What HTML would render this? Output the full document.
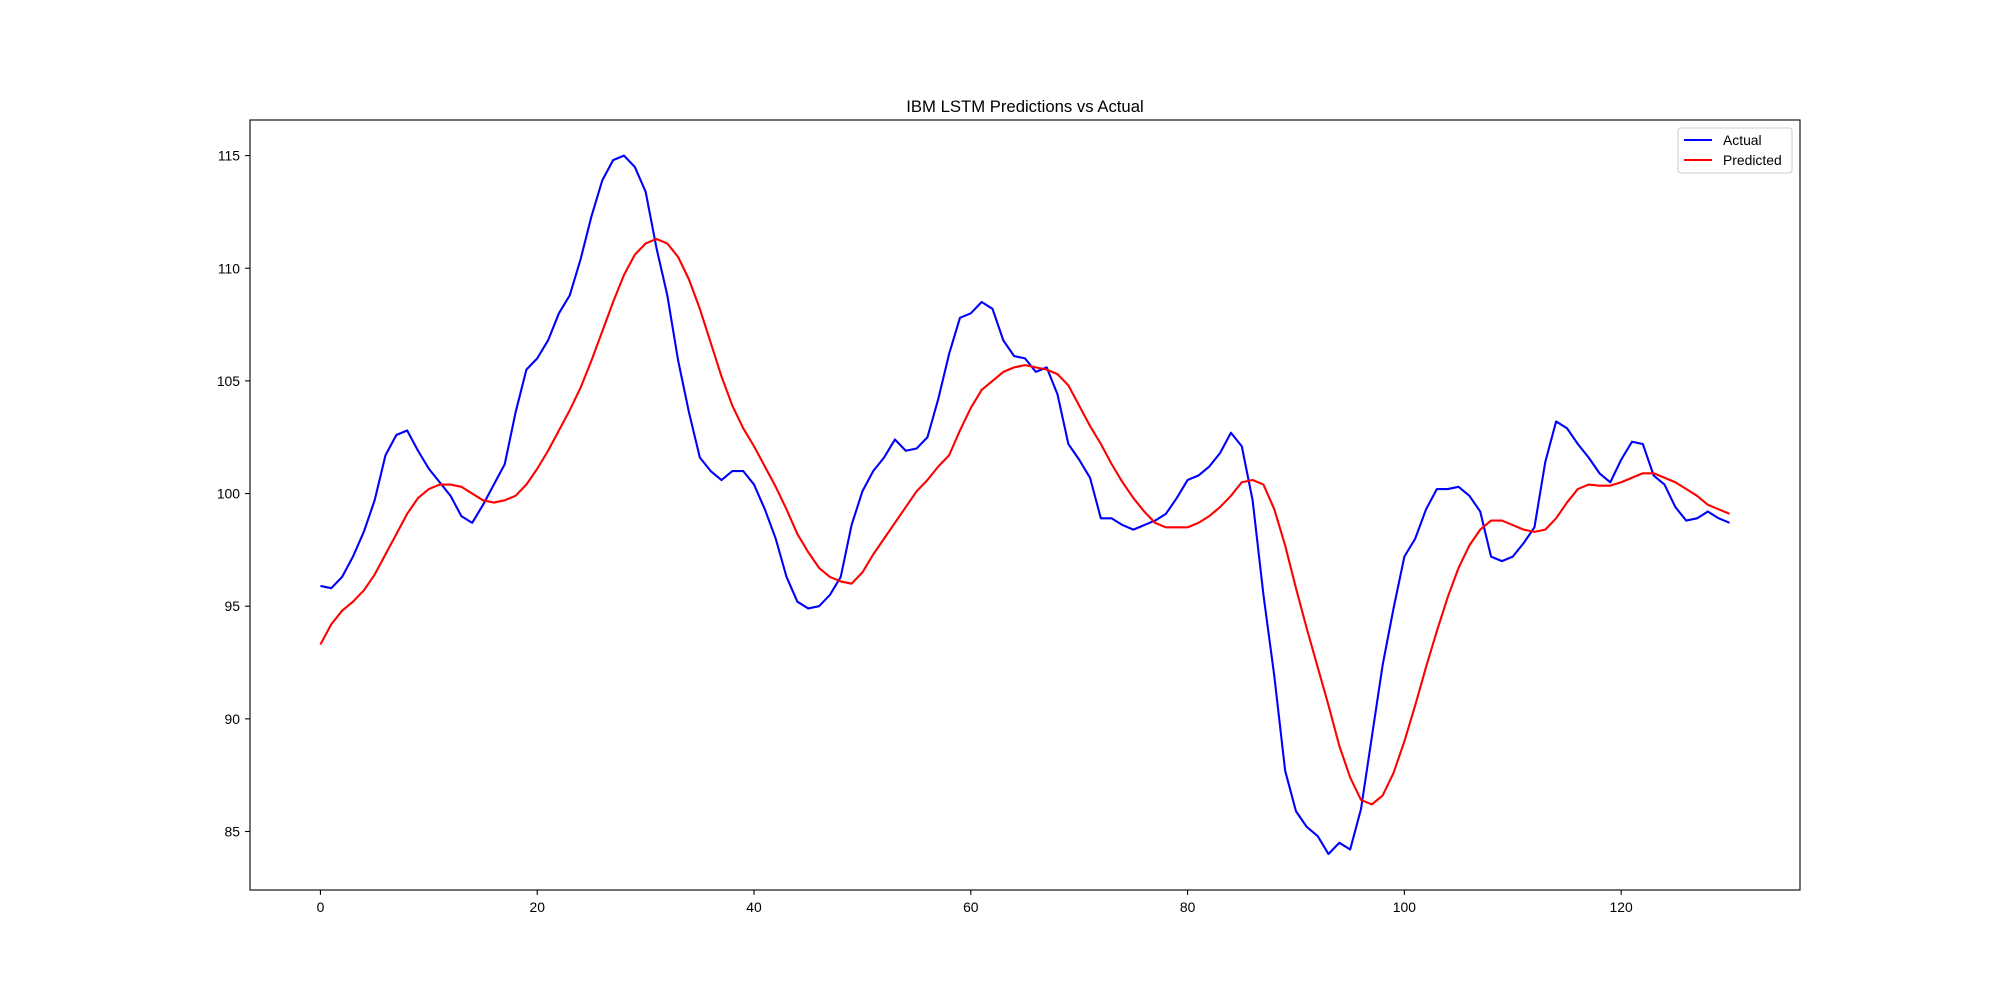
<!DOCTYPE html>
<html><head><meta charset="utf-8"><style>
html,body{margin:0;padding:0;background:#fff;}
svg text{font-family:"Liberation Sans","DejaVu Sans",sans-serif;}
</style></head><body>
<svg id="chart" width="2000" height="1000" xmlns="http://www.w3.org/2000/svg">
<rect x="0" y="0" width="2000" height="1000" fill="#fff"/>
<text x="1025" y="112" font-size="16.7" text-anchor="middle">IBM LSTM Predictions vs Actual</text>
<g id="ticks"></g>
<g id="series"></g>
<rect x="250" y="120" width="1550" height="770" fill="none" stroke="#000" stroke-width="1.1"/>
<g>
<rect x="1678" y="128" width="114" height="45" fill="#fff" stroke="#ccc" stroke-width="1" rx="3"/>
<line x1="1684" y1="140" x2="1712" y2="140" stroke="#0000ff" stroke-width="2.1"/>
<text x="1723" y="145" font-size="13.9">Actual</text>
<line x1="1684" y1="160" x2="1712" y2="160" stroke="#ff0000" stroke-width="2.1"/>
<text x="1723" y="165" font-size="13.9">Predicted</text>
</g>
</svg>
<script>
const actual=[95.9,95.8,96.3,97.2,98.3,99.7,101.7,102.6,102.8,101.9,101.1,100.5,99.9,99.0,98.7,99.5,100.4,101.3,103.6,105.5,106.0,106.8,108.0,108.8,110.4,112.3,113.9,114.8,115.0,114.5,113.4,110.9,108.8,105.9,103.6,101.6,101.0,100.6,101.0,101.0,100.4,99.3,98.0,96.3,95.2,94.9,95.0,95.5,96.3,98.6,100.1,101.0,101.6,102.4,101.9,102.0,102.5,104.2,106.2,107.8,108.0,108.5,108.2,106.8,106.1,106.0,105.4,105.6,104.4,102.2,101.5,100.7,98.9,98.9,98.6,98.4,98.6,98.8,99.1,99.8,100.6,100.8,101.2,101.8,102.7,102.1,99.7,95.5,91.9,87.7,85.9,85.2,84.8,84.0,84.5,84.2,86.0,89.2,92.4,94.9,97.2,98.0,99.3,100.2,100.2,100.3,99.9,99.2,97.2,97.0,97.2,97.8,98.5,101.4,103.2,102.9,102.2,101.6,100.9,100.5,101.5,102.3,102.2,100.8,100.4,99.4,98.8,98.9,99.2,98.9,98.7];
const predicted=[93.3,94.2,94.8,95.2,95.7,96.4,97.3,98.2,99.1,99.8,100.2,100.4,100.4,100.3,100.0,99.7,99.6,99.7,99.9,100.4,101.1,101.9,102.8,103.7,104.7,105.9,107.2,108.5,109.7,110.6,111.1,111.3,111.1,110.5,109.5,108.2,106.7,105.2,103.9,102.9,102.1,101.2,100.3,99.3,98.2,97.4,96.7,96.3,96.1,96.0,96.5,97.3,98.0,98.7,99.4,100.1,100.6,101.2,101.7,102.8,103.8,104.6,105.0,105.4,105.6,105.7,105.6,105.5,105.3,104.8,103.9,103.0,102.2,101.3,100.5,99.8,99.2,98.7,98.5,98.5,98.5,98.7,99.0,99.4,99.9,100.5,100.6,100.4,99.3,97.7,95.8,94.0,92.3,90.6,88.8,87.4,86.4,86.2,86.6,87.6,89.0,90.6,92.3,93.9,95.4,96.7,97.7,98.4,98.8,98.8,98.6,98.4,98.3,98.4,98.9,99.6,100.2,100.4,100.35,100.35,100.5,100.7,100.9,100.9,100.7,100.5,100.2,99.9,99.5,99.3,99.1];
const xTicks=[0,20,40,60,80,100,120];
const yTicks=[85,90,95,100,105,110,115];
const NS='http://www.w3.org/2000/svg';
function xs(v){return 250+(v+6.5)/143*1550;}
function ys(v){return 155.6+(115-v)*22.53;}
const tg=document.getElementById('ticks');
xTicks.forEach(t=>{
  const l=document.createElementNS(NS,'line');
  l.setAttribute('x1',xs(t));l.setAttribute('x2',xs(t));l.setAttribute('y1',890);l.setAttribute('y2',894.9);
  l.setAttribute('stroke','#000');l.setAttribute('stroke-width','1.1');
  
  
  tg.appendChild(l);
  const tx=document.createElementNS(NS,'text');
  tx.setAttribute('x',xs(t));tx.setAttribute('y',912);tx.setAttribute('font-size','13.9');tx.setAttribute('text-anchor','middle');
  tx.textContent=t;
  
  
  tg.appendChild(tx);
});
yTicks.forEach(t=>{
  const l=document.createElementNS(NS,'line');
  l.setAttribute('x1',245.1);l.setAttribute('x2',250);l.setAttribute('y1',ys(t));l.setAttribute('y2',ys(t));
  l.setAttribute('stroke','#000');l.setAttribute('stroke-width','1.1');
  
  
  tg.appendChild(l);
  const tx=document.createElementNS(NS,'text');
  tx.setAttribute('x',240);tx.setAttribute('y',ys(t)+5);tx.setAttribute('font-size','13.9');tx.setAttribute('text-anchor','end');
  tx.textContent=t;
  
  
  tg.appendChild(tx);
});
const sg=document.getElementById('series');
function drawLine(arr,color,name){
  const p=document.createElementNS(NS,'polyline');
  p.setAttribute('points',arr.map((v,i)=>xs(i).toFixed(2)+','+ys(v).toFixed(2)).join(' '));
  p.setAttribute('fill','none');p.setAttribute('stroke',color);p.setAttribute('stroke-width','2.1');
  p.setAttribute('stroke-linejoin','round');
  
  
  sg.appendChild(p);
}
drawLine(actual,'#0000ff','actual-line');
drawLine(predicted,'#ff0000','predicted-line');
</script>
</body></html>
